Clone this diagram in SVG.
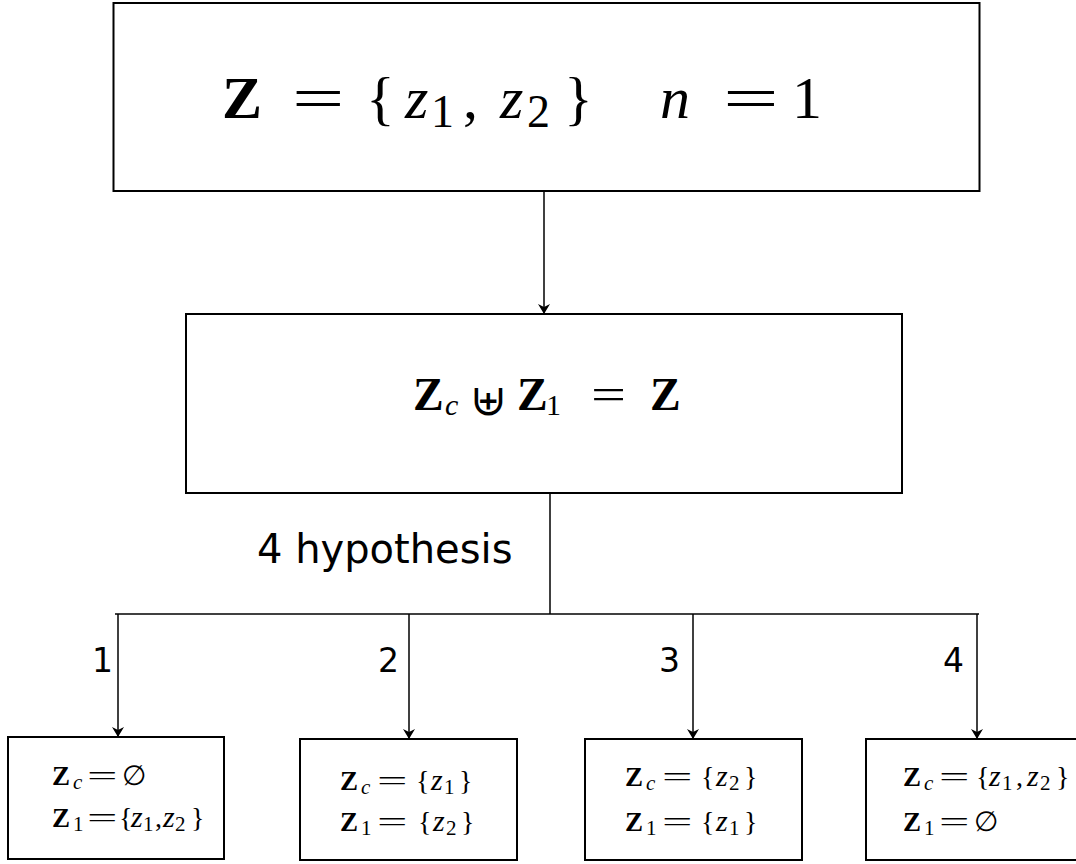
<svg xmlns="http://www.w3.org/2000/svg" width="1076" height="864" viewBox="0 0 1076 864">
<defs>
<style>
.box{fill:#fff;stroke:#000;stroke-width:2}
.conn{fill:none;stroke:#000;stroke-width:1.5}
.m{font-family:"Liberation Serif","DejaVu Serif",serif;fill:#000}
.b{font-weight:bold}
.i{font-style:italic}
.s{font-family:"DejaVu Sans","Liberation Sans",sans-serif;fill:#000}
.sm{font-size:28px}
.bz{font-size:27px;font-weight:bold}
.zz{font-size:30px;font-style:italic}
.sub{font-size:21px}
.eq{font-size:27px}
</style>
<marker id="arr" viewBox="0 0 10 20" refX="10" refY="10" markerWidth="10" markerHeight="20" markerUnits="userSpaceOnUse" orient="auto">
<path d="M0,4 L10,10 L0,16 L3,10 Z" fill="#000"/>
</marker>
</defs>
<rect width="1076" height="864" fill="#fff"/>
<g id="connectors">
<line class="conn" x1="544" y1="191" x2="544" y2="314" marker-end="url(#arr)"/>
<polyline class="conn" points="550,493 550,614"/>
<line class="conn" x1="115" y1="614" x2="979" y2="614"/>
<line class="conn" x1="118" y1="614" x2="118" y2="737" marker-end="url(#arr)"/>
<line class="conn" x1="409" y1="614" x2="409" y2="739" marker-end="url(#arr)"/>
<line class="conn" x1="693" y1="614" x2="693" y2="739" marker-end="url(#arr)"/>
<line class="conn" x1="977" y1="614" x2="977" y2="739" marker-end="url(#arr)"/>
<text class="s" x="92" y="672" font-size="33">1</text>
<text class="s" x="378" y="672" font-size="33">2</text>
<text class="s" x="659" y="672" font-size="33">3</text>
<text class="s" x="943" y="672" font-size="33">4</text>
<text class="s" x="257" y="563" font-size="40">4 hypothesis</text>
</g>
<g id="top">
<rect class="box" x="113.5" y="3" width="866" height="188"/>
<text class="m" y="118" font-size="60"><tspan class="b" x="222">Z</tspan><tspan x="366">{</tspan><tspan class="i" x="405">z</tspan><tspan x="431" dy="9" font-size="46">1</tspan><tspan x="463" dy="-9">,</tspan><tspan class="i" x="500">z</tspan><tspan x="527" dy="9" font-size="46">2</tspan><tspan x="564" dy="-9">}</tspan><tspan class="i" x="660">n</tspan><tspan x="792">1</tspan></text>
<text class="m" transform="translate(292,118) scale(1.55,1)" font-size="60">=</text>
<text class="m" transform="translate(723,118) scale(1.65,1)" font-size="60">=</text>
</g>
<g id="middle">
<rect class="box" x="186" y="314" width="716" height="179"/>
<text class="m" y="410" font-size="46"><tspan class="b" x="413">Z</tspan><tspan class="i" x="445" dy="5" font-size="30">c</tspan><tspan x="470" dy="0" font-size="44">⊎</tspan><tspan class="b" x="517" dy="-5">Z</tspan><tspan x="546" dy="5" font-size="30">1</tspan><tspan class="b" x="650" dy="-5">Z</tspan></text>
<text class="m" transform="translate(591,410) scale(1.35,1)" font-size="46">=</text>
</g>
<g id="h1">
<rect class="box" x="8" y="737" width="216" height="122"/>
<text class="m sm" y="785"><tspan class="bz" x="52">Z</tspan><tspan class="i sub" x="73" dy="4">c</tspan><tspan x="122" dy="-4">∅</tspan></text>
<text class="m eq" transform="translate(87,785) scale(2,1)">=</text>
<text class="m sm" y="827"><tspan class="bz" x="52">Z</tspan><tspan class="sub" x="73" dy="4">1</tspan><tspan x="119" dy="-4">{</tspan><tspan class="zz" x="131">z</tspan><tspan class="sub" x="143" dy="4">1</tspan><tspan x="155" dy="-4">,</tspan><tspan class="zz" x="163">z</tspan><tspan class="sub" x="175" dy="4">2</tspan><tspan x="191" dy="-4">}</tspan></text>
<text class="m eq" transform="translate(87,827) scale(2,1)">=</text>
</g>
<g id="h2">
<rect class="box" x="300" y="739" width="217" height="121"/>
<text class="m sm" y="790"><tspan class="bz" x="340">Z</tspan><tspan class="i sub" x="361" dy="4">c</tspan><tspan x="416" dy="-4">{</tspan><tspan class="zz" x="431">z</tspan><tspan class="sub" x="444" dy="4">1</tspan><tspan x="459" dy="-4">}</tspan></text>
<text class="m eq" transform="translate(377,790) scale(2,1)">=</text>
<text class="m sm" y="831"><tspan class="bz" x="340">Z</tspan><tspan class="sub" x="361" dy="4">1</tspan><tspan x="418" dy="-4">{</tspan><tspan class="zz" x="433">z</tspan><tspan class="sub" x="446" dy="4">2</tspan><tspan x="461" dy="-4">}</tspan></text>
<text class="m eq" transform="translate(377,831) scale(2,1)">=</text>
</g>
<g id="h3">
<rect class="box" x="585" y="739" width="217" height="121"/>
<text class="m sm" y="786"><tspan class="bz" x="625">Z</tspan><tspan class="i sub" x="646" dy="4">c</tspan><tspan x="701" dy="-4">{</tspan><tspan class="zz" x="716">z</tspan><tspan class="sub" x="729" dy="4">2</tspan><tspan x="744" dy="-4">}</tspan></text>
<text class="m eq" transform="translate(662,786) scale(2,1)">=</text>
<text class="m sm" y="831"><tspan class="bz" x="625">Z</tspan><tspan class="sub" x="646" dy="4">1</tspan><tspan x="701" dy="-4">{</tspan><tspan class="zz" x="716">z</tspan><tspan class="sub" x="729" dy="4">1</tspan><tspan x="744" dy="-4">}</tspan></text>
<text class="m eq" transform="translate(662,831) scale(2,1)">=</text>
</g>
<g id="h4">
<rect class="box" x="866" y="739" width="216" height="121"/>
<text class="m sm" y="786"><tspan class="bz" x="903">Z</tspan><tspan class="i sub" x="924" dy="4">c</tspan><tspan x="976" dy="-4">{</tspan><tspan class="zz" x="989">z</tspan><tspan class="sub" x="1002" dy="4">1</tspan><tspan x="1016" dy="-4">,</tspan><tspan class="zz" x="1027">z</tspan><tspan class="sub" x="1040" dy="4">2</tspan><tspan x="1056" dy="-4">}</tspan></text>
<text class="m eq" transform="translate(939,786) scale(2,1)">=</text>
<text class="m sm" y="831"><tspan class="bz" x="903">Z</tspan><tspan class="sub" x="924" dy="4">1</tspan><tspan x="974" dy="-4">∅</tspan></text>
<text class="m eq" transform="translate(939,831) scale(2,1)">=</text>
</g>
</svg>
